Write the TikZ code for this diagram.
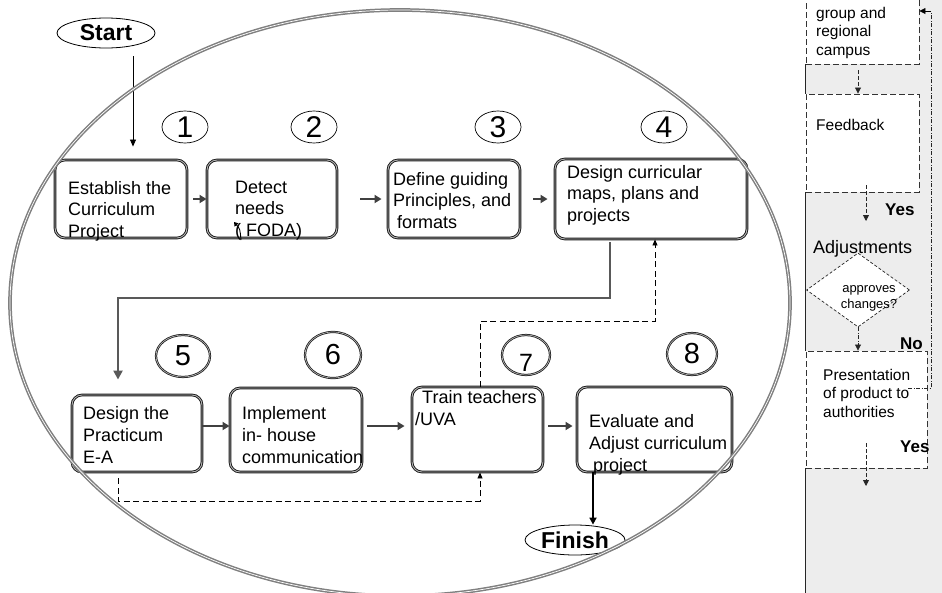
\documentclass[tikz,border=0pt]{standalone}
\usepackage{fontspec}
\setmainfont{Liberation Sans}
\usetikzlibrary{arrows.meta,shapes.geometric,calc}
\begin{document}
\begin{tikzpicture}[x=1pt,y=-1pt,
  stepbox/.style={draw=black!90, double=gray!60, double distance=0.9pt, line width=0.9pt,
    rounded corners=10pt, inner sep=0pt},
  btext/.style={font=\fontsize{18}{21.5}\selectfont, align=left, anchor=north west, inner sep=0pt},
  numc/.style={ellipse, draw=black, line width=0.7pt, inner sep=0pt,
    font=\fontsize{30}{30}\selectfont},
  numcd/.style={ellipse, draw=black!90, double=gray!60, double distance=0.7pt, line width=0.75pt,
    inner sep=0pt, font=\fontsize{29}{29}\selectfont},
  term/.style={ellipse, draw=black, line width=0.8pt, inner sep=0pt,
    font=\fontsize{23}{23}\selectfont\bfseries},
  flowarrow/.style={draw=black!75, line width=2.2pt, -{Triangle[length=7pt,width=8pt]}},
  bigconn/.style={draw=black!65, line width=2.6pt, -{Triangle[length=9pt,width=9pt]}},
  dconn/.style={draw=black, line width=0.8pt, dash pattern=on 6pt off 3.5pt,
    -{Triangle[length=6pt,width=5pt]}},
  ring/.style={draw=black!50, double=white, double distance=0.7pt, line width=1.5pt},
  pbox/.style={draw=black!80, fill=white, line width=0.9pt, dash pattern=on 6pt off 3pt, inner sep=0pt},
  ptext/.style={font=\fontsize{15.5}{18.5}\selectfont, align=left, anchor=north west, inner sep=0pt},
  pbold/.style={font=\fontsize{17}{17}\selectfont\bfseries, anchor=north west, inner sep=0pt},
  parrow/.style={draw=black!85, line width=0.8pt, dash pattern=on 4pt off 2pt,
    -{Triangle[length=6pt,width=6pt]}},
  pdashdot/.style={draw=black!85, line width=0.8pt, dash pattern=on 4pt off 1.5pt on 1pt off 1.5pt}
]
\useasboundingbox (0,0) rectangle (942,592);

% ---- process steps, first row
\node[stepbox, minimum width=132pt, minimum height=78pt] (b1) at (121,199) {};
\node[stepbox, minimum width=130pt, minimum height=78pt] (b2) at (272,199) {};
\node[stepbox, minimum width=132pt, minimum height=78pt] (b3) at (454,199) {};
\node[stepbox, minimum width=192pt, minimum height=80pt] (b4) at (651,199) {};
\node[btext] (t1) at (68,180) {\rule{0pt}{14pt}Establish the\\Curriculum\\Project};
\node[btext] (t2) at (235,179) {\rule{0pt}{14pt}Detect\\needs\\( FODA)};
\node[btext] (t3) at (393,171) {\rule{0pt}{14pt}Define guiding\\Principles, and\\\hspace*{4pt}formats};
\node[btext] (t4) at (567,164) {\rule{0pt}{14pt}Design curricular\\maps, plans and\\projects};

% ---- process steps, second row
\node[stepbox, minimum width=130pt, minimum height=77pt] (b5) at (137,433.5) {};
\node[stepbox, minimum width=132pt, minimum height=84pt] (b6) at (296,430) {};
\node[stepbox, minimum width=131pt, minimum height=85pt] (b7) at (477.5,429.5) {};
\node[stepbox, minimum width=155pt, minimum height=85pt] (b8) at (654.5,429.5) {};
\node[btext, font=\fontsize{18}{22}\selectfont] (t5) at (83,405) {\rule{0pt}{14pt}Design the\\Practicum\\E-A};
\node[btext, font=\fontsize{18}{22}\selectfont] (t6) at (242,405) {\rule{0pt}{14pt}Implement\\in- house\\communication};
\node[btext, font=\fontsize{18}{22}\selectfont] (t7) at (422,389) {\rule{0pt}{14pt}Train teachers\\\hspace*{-7pt}/UVA};
\node[btext, font=\fontsize{18}{22}\selectfont] (t8) at (589,413) {\rule{0pt}{14pt}Evaluate and\\Adjust curriculum\\\hspace*{4pt}project};

% ---- step numbers
\node[numc, minimum width=46pt, minimum height=32pt] (n1) at (185,127) {1};
\node[numc, minimum width=46pt, minimum height=32pt] (n2) at (314,127) {2};
\node[numc, minimum width=46pt, minimum height=32pt] (n3) at (498,127) {3};
\node[numc, minimum width=46pt, minimum height=32pt] (n4) at (664,127) {4};
\node[numcd, minimum width=54pt, minimum height=42pt] (n5) at (183,356) {5};
\node[numcd, minimum width=56pt, minimum height=46pt] (n6) at (333,355) {6};
\node[numcd, minimum width=48pt, minimum height=40pt] (n7) at (526,355) {};
\node[font=\fontsize{25}{25}\selectfont, inner sep=0pt] (n7d) at (526,363) {7};
\node[numcd, minimum width=50pt, minimum height=42pt] (n8) at (692,354) {8};

% ---- start and finish
\node[term, minimum width=98pt, minimum height=30pt] (start) at (106,33) {Start};
\node[term, minimum width=100pt, minimum height=30pt] (finish) at (575,540) {Finish};
\coordinate (sx) at (133,0);
\coordinate (fx) at (593,0);
\draw[draw=black, line width=0.8pt, -{Triangle[length=7pt,width=6pt]}]
  ([yshift=-8pt]start.south -| sx) -- ([yshift=13pt]b1.north -| sx);
\draw[draw=black, line width=1.6pt, -{Triangle[length=7pt,width=7pt]}]
  (b8.south -| fx) -- (finish.north -| fx);

% ---- flow between steps
\draw[flowarrow] ([xshift=6pt]b1.east) -- (b2.west);
\draw[flowarrow] ([xshift=23pt]b2.east) -- ([xshift=-6pt]b3.west);
\draw[flowarrow] ([xshift=13pt]b3.east) -- ([xshift=-7pt]b4.west);
\draw[flowarrow] ([yshift=7.5pt]b5.east) -- ([yshift=4pt]b6.west);
\draw[flowarrow] ([xshift=5pt,yshift=4pt]b6.east) -- ([xshift=-7pt,yshift=3.5pt]b7.west);
\draw[flowarrow] ([xshift=5pt,yshift=3.5pt]b7.east) -- ([xshift=-4pt,yshift=3.5pt]b8.west);

% small hooked arrow beside FODA
\coordinate (hk0) at (241,240);
\coordinate (hk1) at (240,229);
\coordinate (hk2) at (234,222);
\draw[black, line width=0.9pt, -{Triangle[length=4pt,width=5pt]}] (hk0) .. controls (hk1) .. (hk2);

% row change and feedback loops
\coordinate (m45) at (364,298);
\draw[bigconn, shorten <=3pt] ([xshift=-41pt]b4.south) |- (m45) -| ([xshift=-19pt,yshift=15pt]b5.north);
\coordinate (c74) at (655,321);
\draw[dconn] ([xshift=2.5pt]b7.north) |- (c74) -- (c74 |- b4.south);
\coordinate (c57) at (118,501);
\draw[dconn, shorten <=6pt] (c57 |- b5.south) -- (c57) -| ([xshift=2.5pt]b7.south);

% ---- enclosing cycle
\draw[ring] (400,303) ellipse [x radius=390, y radius=293];

% ---- review lane on the right
\fill[black!7] (806,-10) rectangle (950,600);
\node[pbox, minimum width=113pt, minimum height=84pt] (grp) at (862.5,22) {};
\node[pbox, minimum width=113pt, minimum height=98pt] (fb) at (862.5,143) {};
\node[pbox, minimum width=121pt, minimum height=117pt] (pres) at (866.5,409.5) {};
\node[diamond, draw=black!85, fill=white, line width=0.7pt, dash pattern=on 3pt off 2pt,
  minimum width=103pt, minimum height=74pt, inner sep=0pt] (dia) at (858,290) {};
\draw[black!85, line width=0.9pt] (grp.south west) -- (fb.north west);
\draw[black!85, line width=0.9pt] (fb.south west) -- (pres.north west);
\draw[black!85, line width=0.9pt] (pres.south west) -- ++(0,140);

\node[ptext] (grpt) at (816,6) {\rule{0pt}{12pt}group and\\regional\\campus};
\node[ptext] (fbt) at (816,118) {\rule{0pt}{12pt}Feedback};
\node[ptext] (prest) at (823,368) {\rule{0pt}{12pt}Presentation\\of product to\\authorities};
\node[font=\fontsize{18}{18}\selectfont, anchor=north west, inner sep=0pt] (adj) at (813,239) {\rule{0pt}{14pt}Adjustments};
\node[font=\fontsize{13}{16}\selectfont, align=center, anchor=north, inner sep=0pt] (diat) at (869,282) {\rule{0pt}{10pt}approves\\changes?};
\node[pbold] (yes1) at (885,202) {\rule{0pt}{13pt}Yes};
\node[pbold] (no) at (900,336) {\rule{0pt}{13pt}No};
\node[pbold] (yes2) at (900,439) {\rule{0pt}{13pt}Yes};

\coordinate (adjin) at (866,221);
\coordinate (presout) at (866,486);
\draw[parrow, shorten <=6pt] ([xshift=-4.5pt]grp.south) -- ([xshift=-4.5pt]fb.north);
\draw[parrow] ([xshift=3.5pt,yshift=7pt]fb.south) -- (adjin);
\draw[pdashdot, -{Triangle[length=6pt,width=6pt]}] (dia.south) -- (dia.south |- pres.north);
\draw[parrow] ([xshift=-0.5pt,yshift=25pt]pres.south) -- (presout);
\coordinate (lp0) at (908,388);
\coordinate (lpB) at (931,11);
\draw[pdashdot] (lp0) -| (lpB);
\draw[black, line width=0.8pt, -{Triangle[length=6pt,width=6pt]}] (lpB) -- (grp.east |- lpB);
\end{tikzpicture}
\end{document}
